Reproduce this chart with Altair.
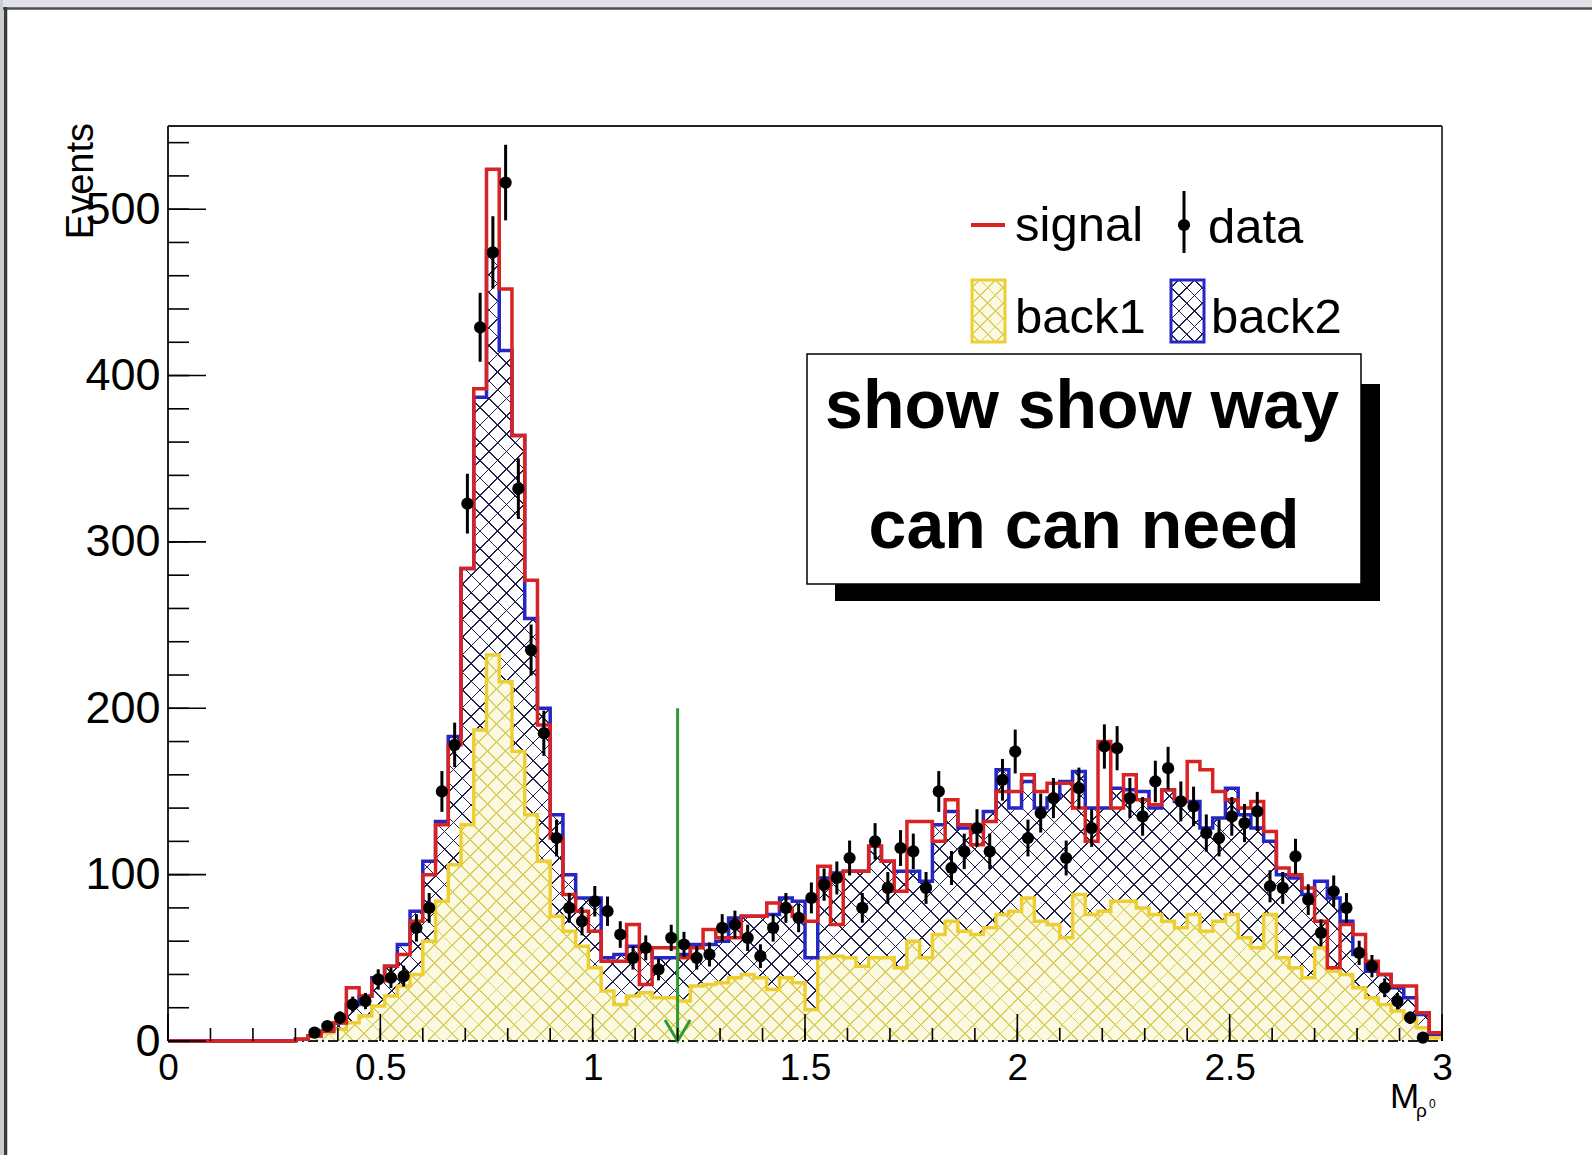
import math
import altair as alt
import pandas as pd

# ---------------- data ----------------
N_BINS = 100
X_MIN, X_MAX = 0.0, 3.0
Y_MAX = 550

# back1 (yellow, bottom of the stack)
back1 = [0] * 10 + [
    1, 3, 5, 7, 11, 15, 21, 27, 33, 40,
    60, 84, 106, 130, 187, 232, 216, 174, 136, 108,
    75, 66, 57, 44, 30, 22, 27, 29, 26, 26,
    24, 33, 34, 35, 38, 40, 38, 31, 38, 35,
    19, 50, 51, 50, 45, 50, 50, 44, 60, 50,
    64, 72, 66, 64, 68, 76, 78, 86, 72, 70,
    62, 88, 76, 78, 84, 84, 80, 76, 72, 68,
    76, 66, 72, 76, 62, 56, 76, 50, 44, 38,
    56, 42, 40, 32, 26, 22, 18, 14, 8, 2]

# back1 + back2 (blue, top of the stack)
stack_top = [0] * 10 + [
    1, 3, 6, 11, 22, 27, 38, 45, 58, 78,
    108, 132, 183, 284, 387, 475, 415, 364, 254, 200,
    136, 100, 86, 86, 50, 52, 57, 56, 50, 50,
    52, 58, 58, 60, 74, 75, 75, 76, 86, 84,
    50, 98, 101, 102, 102, 117, 108, 102, 102, 96,
    130, 138, 128, 126, 138, 163, 140, 156, 140, 146,
    156, 162, 140, 140, 152, 151, 150, 140, 151, 144,
    144, 128, 134, 152, 136, 128, 120, 100, 98, 88,
    96, 86, 72, 52, 42, 40, 32, 26, 16, 4]

# signal (red outline)
signal = [0] * 10 + [
    1, 3, 6, 11, 32, 27, 36, 45, 52, 72,
    100, 130, 178, 284, 392, 524, 452, 364, 277, 190,
    122, 88, 78, 66, 48, 48, 70, 34, 56, 56,
    50, 56, 67, 62, 62, 75, 75, 83, 80, 75,
    72, 105, 70, 102, 102, 117, 108, 90, 132, 132,
    120, 145, 130, 118, 132, 150, 150, 160, 150, 155,
    155, 140, 120, 180, 140, 160, 145, 142, 151, 145,
    168, 163, 150, 145, 140, 144, 126, 104, 100, 92,
    72, 44, 70, 64, 48, 40, 33, 33, 17, 5]

# data points (None = no point drawn)
data_counts = [None] * 11 + [
    5, 9, 14, 22, 24, 37, 38, 39, 68,
    80, 150, 178, 323, 429, 474, 516, 332, 235, 185,
    122, 80, 72, 84, 78, 64, 50, 56, 43, 62,
    58, 50, 52, 68, 70, 62, 51, 68, 80, 74,
    86, 94, 98, 110, 80, 120, 92, 116, 114, 92,
    150, 104, 114, 128, 114, 157, 174, 122, 137, 146,
    110, 152, 128, 177, 176, 146, 135, 156, 164, 144,
    141, 125, 122, 135, 131, 138, 93, 92, 111, 85,
    65, 90, 80, 53, 45, 32, 24, 14, 2, None]

x_major = [0, 0.5, 1, 1.5, 2, 2.5, 3]
x_minor = [i / 10 for i in range(31)]
y_major = [0, 100, 200, 300, 400, 500]
y_minor = list(range(0, 541, 20))

legend_labels = ["signal", "data", "back1", "back2"]
box_lines = ["show show way", "can can need"]
y_title = "Events"
x_title = ["M", "ρ", "0"]
arrow_x = [1.2]
arrow_top = [200]

# ---------------- layout / style ----------------
W, H = 1274, 915
PAD = {"left": 168, "top": 126, "right": 150, "bottom": 114}
FONT = "Liberation Sans"
RED = "#d92323"
BLUE = "#2626c4"
YELLOW = "#eecf33"
GREEN = "#2f9a2f"
NAVY = "#22224e"
HATCH_Y = "#d8cf5c"

bin_w = (X_MAX - X_MIN) / N_BINS
edges = [X_MIN + i * bin_w for i in range(N_BINS + 1)]
step_df = pd.DataFrame({
    "x": edges,
    "back1": back1 + [back1[-1]],
    "top": stack_top + [stack_top[-1]],
    "signal": signal + [signal[-1]],
})
pts = [(X_MIN + (i + 0.5) * bin_w, n) for i, n in enumerate(data_counts) if n is not None]
data_df = pd.DataFrame({
    "xc": [p[0] for p in pts],
    "n": [p[1] for p in pts],
    "lo": [p[1] - math.sqrt(p[1]) for p in pts],
    "hi": [p[1] + math.sqrt(p[1]) for p in pts],
})

xs = alt.Scale(domain=[X_MIN, X_MAX], nice=False, zero=False)
ys = alt.Scale(domain=[0, Y_MAX], nice=False)
XA = alt.Axis(values=x_major, format="~g", ticks=False, tickSize=0, domain=False, grid=False,
              labelFont=FONT, labelFontSize=37, labelColor="black", labelPadding=9,
              labelFlush=False, labelOverlap=False, title=None)
YA = alt.Axis(values=y_major, format="d", ticks=False, tickSize=0, domain=False, grid=False,
              labelFont=FONT, labelFontSize=45, labelColor="black", labelPadding=8,
              labelOverlap=False, title=None)


def QX(field):
    return alt.X(field, type="quantitative", scale=xs, axis=XA)


def QY(field):
    return alt.Y(field, type="quantitative", scale=ys, axis=YA)


def hatch(bw, bh, spacing, lw, color, bg, flip):
    """Linear gradient with hard stops that draws 45-degree hatch lines."""
    L = bw + bh
    dc = spacing * math.sqrt(2)
    hw = lw * math.sqrt(2) / 2
    r = bh / bw
    s = (1 + r) / (1 + r * r)
    if flip:
        x1, y1, x2, y2 = 0, 1, s, 1 - s * r
    else:
        x1, y1, x2, y2 = 0, 0, s, s * r
    stops = [{"offset": 0, "color": bg}]
    c = dc / 2
    last = 0
    while c - hw < L:
        t0 = round(max(last, (c - hw) / L), 6)
        t1 = round(min(1, (c + hw) / L), 6)
        stops += [{"offset": t0, "color": bg}, {"offset": t0, "color": color},
                  {"offset": t1, "color": color}, {"offset": t1, "color": bg}]
        last = t1
        c += dc
    stops.append({"offset": 1, "color": bg})
    return {"gradient": "linear", "x1": x1, "y1": y1, "x2": round(x2, 6), "y2": round(y2, 6),
            "stops": stops}


CLEAR = "rgba(255,255,255,0)"
blue_h = max(stack_top) * H / Y_MAX
yel_h = max(back1) * H / Y_MAX

one = pd.DataFrame({"k": [0]})


def area(col, fill):
    return alt.Chart(step_df).mark_area(interpolate="step-after", fill=fill, strokeWidth=0).encode(
        x=QX("x"), y=QY(col))


def step_line(col, color):
    return alt.Chart(step_df).mark_line(interpolate="step-after", color=color, strokeWidth=3.5).encode(
        x=QX("x"), y=QY(col))


def prule(color, width, dash=None, **enc):
    kw = dict(color=color, strokeWidth=width)
    if dash:
        kw["strokeDash"] = dash
    return alt.Chart(one).mark_rule(**kw).encode(**{k: alt.value(v) for k, v in enc.items()})


def prect(fill, stroke=None, sw=0, **enc):
    kw = dict(fill=fill, strokeWidth=sw)
    if stroke:
        kw["stroke"] = stroke
    return alt.Chart(one).mark_rect(**kw).encode(**{k: alt.value(v) for k, v in enc.items()})


def ptext(txt, x, y, size, align="left", bold=False, angle=None, baseline="alphabetic"):
    kw = dict(font=FONT, fontSize=size, align=align, baseline=baseline, color="black",
              fontWeight="bold" if bold else "normal")
    if angle is not None:
        kw["angle"] = angle
    return alt.Chart(pd.DataFrame({"t": [txt]})).mark_text(**kw).encode(
        text="t:N", x=alt.value(x), y=alt.value(y))


layers = []
# stacked hatched histograms (first layer carries the axes)
layers.append(area("top", hatch(W, blue_h, 12.5, 1.15, NAVY, CLEAR, False)))
layers.append(area("top", hatch(W, blue_h, 12.5, 1.15, NAVY, CLEAR, True)))
layers.append(area("back1", "#fcf9e2"))
layers.append(area("back1", hatch(W, yel_h, 12.5, 1.3, HATCH_Y, CLEAR, False)))
layers.append(area("back1", hatch(W, yel_h, 12.5, 1.3, HATCH_Y, CLEAR, True)))

# window chrome
layers.append(prect("#dfe3e9", x=-PAD["left"], x2=W + PAD["right"], y=-PAD["top"], y2=-PAD["top"] + 7))
layers.append(prule("#4d4d4d", 2.5, x=-PAD["left"], x2=W + PAD["right"], y=-PAD["top"] + 8.5))
layers.append(prect("#c8cdd2", x=-PAD["left"], x2=-PAD["left"] + 3, y=-PAD["top"], y2=H + PAD["bottom"]))
layers.append(prule("#3a3a3a", 3.5, x=-PAD["left"] + 5.5, y=-PAD["top"] + 7, y2=H + PAD["bottom"]))

# frame
layers.append(prule("#222", 2, x=0, x2=W, y=0))
layers.append(prule("#222", 2, x=0, y=0, y2=H))
layers.append(prule("#444", 2, x=W, y=0, y2=H))
layers.append(prule("#222", 2, dash=[10, 4, 2, 4], x=0, x2=W, y=H))

# outlines
layers.append(step_line("back1", YELLOW))
layers.append(step_line("top", BLUE))
layers.append(step_line("signal", RED))

# arrow
arrow_df = pd.DataFrame({"x": arrow_x, "top": arrow_top, "bottom": [0]})
layers.append(alt.Chart(arrow_df).mark_rule(color=GREEN, strokeWidth=3).encode(
    x=QX("x"), y=QY("top"), y2="bottom:Q"))
layers.append(alt.Chart(arrow_df).mark_point(shape="M-0.6,-1L0,0L0.6,-1", size=1764, filled=False,
                                             color=GREEN, strokeWidth=3, opacity=1).encode(
    x=QX("x"), y=QY("bottom")))

# data with error bars
layers.append(alt.Chart(data_df).mark_rule(color="black", strokeWidth=3).encode(
    x=QX("xc"), y=QY("lo"), y2="hi:Q"))
layers.append(alt.Chart(data_df).mark_circle(color="black", size=150, opacity=1).encode(
    x=QX("xc"), y=QY("n")))

# inward ticks
for vals, ln in ((x_minor, 13), (x_major, 27)):
    layers.append(alt.Chart(pd.DataFrame({"v": vals})).mark_rule(color="black", strokeWidth=1.6).encode(
        x=QX("v"), y=alt.value(H), y2=alt.value(H - ln)))
for vals, ln in ((y_minor, 21), (y_major, 38)):
    layers.append(alt.Chart(pd.DataFrame({"v": vals})).mark_rule(color="black", strokeWidth=1.6).encode(
        y=QY("v"), x=alt.value(0), x2=alt.value(ln)))

# axis titles
layers.append(ptext(y_title, -75, -3, 38, align="right", angle=270))
layers.append(ptext(x_title[0], 1222, 982, 35))
layers.append(ptext(x_title[1], 1248, 991, 19))
layers.append(ptext(x_title[2], 1261, 982, 12))

# legend
layers.append(prule(RED, 4, x=803, x2=837, y=99))
layers.append(ptext(legend_labels[0], 847, 115, 49))
layers.append(prule("black", 3, x=1016, y=65, y2=127))
layers.append(alt.Chart(one).mark_circle(color="black", size=150, opacity=1).encode(
    x=alt.value(1016), y=alt.value(99)))
layers.append(ptext(legend_labels[1], 1040, 117, 49))
layers.append(prect("#fcf9e2", x=804, x2=837, y=154, y2=216))
layers.append(prect(hatch(33, 62, 11, 1.3, HATCH_Y, CLEAR, False), x=804, x2=837, y=154, y2=216))
layers.append(prect(hatch(33, 62, 11, 1.3, HATCH_Y, CLEAR, True), YELLOW, 3, x=804, x2=837, y=154, y2=216))
layers.append(ptext(legend_labels[2], 847, 207, 49))
layers.append(prect(hatch(33, 62, 11, 1.2, NAVY, CLEAR, False), x=1003, x2=1036, y=154, y2=216))
layers.append(prect(hatch(33, 62, 11, 1.2, NAVY, CLEAR, True), BLUE, 3, x=1003, x2=1036, y=154, y2=216))
layers.append(ptext(legend_labels[3], 1043, 207, 49))

# text box with shadow
layers.append(prect("black", x=667, x2=1212, y=258, y2=475))
layers.append(prect("white", "black", 1.5, x=639, x2=1193, y=228, y2=458))
layers.append(ptext(box_lines[0], 914, 302, 68, align="center", bold=True))
layers.append(ptext(box_lines[1], 916, 422, 68, align="center", bold=True))

chart = alt.layer(*layers).properties(
    width=W, height=H,
    autosize=alt.AutoSizeParams(type="none"),
    padding=PAD,
    background="white",
).configure_view(stroke=None)

chart.save("out.html", embed_options={"renderer": "svg", "actions": False})
